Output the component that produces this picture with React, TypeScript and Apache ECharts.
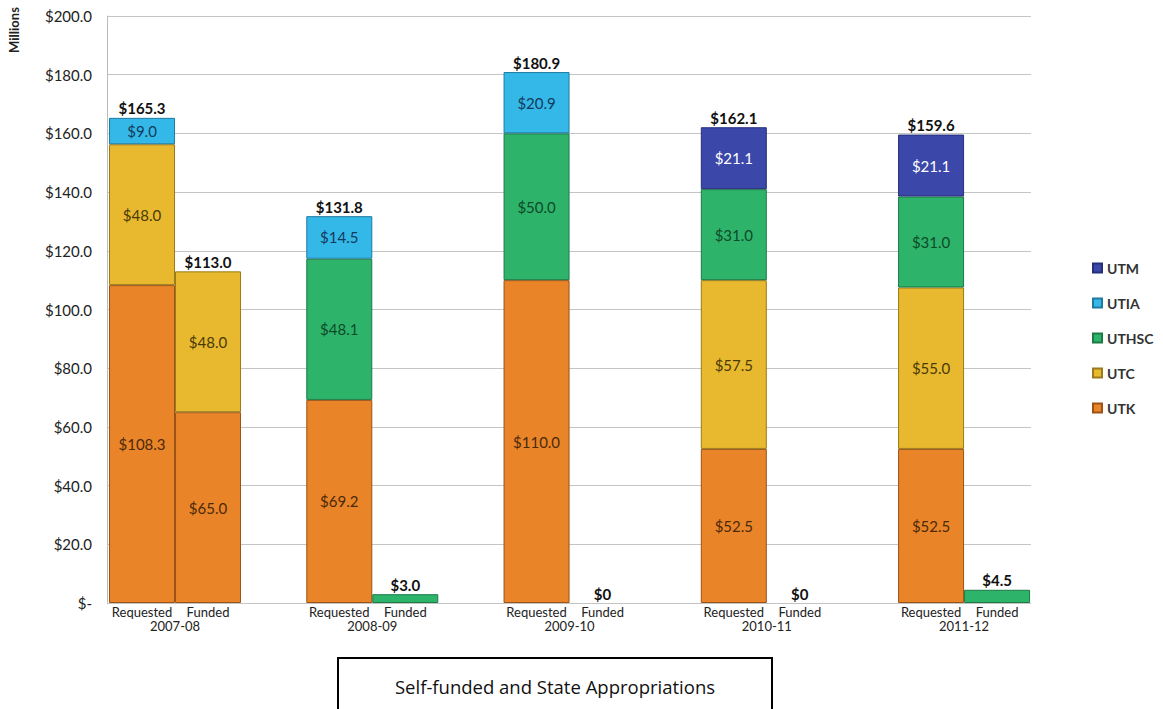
import React, { useEffect, useRef } from "react";
import * as echarts from "echarts";

const years = ["2007-08", "2008-09", "2009-10", "2010-11", "2011-12"];
const institutions = ["UTK", "UTC", "UTHSC", "UTIA", "UTM"];
const legendOrder = ["UTM", "UTIA", "UTHSC", "UTC", "UTK"];
const yTicks = [0, 20, 40, 60, 80, 100, 120, 140, 160, 180, 200];

// Requested amounts (millions)
const reqUTK = [108.3, 69.2, 110.0, 52.5, 52.5];
const reqUTC = [48.0, null, null, 57.5, 55.0];
const reqUTHSC = [null, 48.1, 50.0, 31.0, 31.0];
const reqUTIA = [9.0, 14.5, 20.9, null, null];
const reqUTM = [null, null, null, 21.1, 21.1];

// Funded amounts (millions)
const fundUTK = [65.0, null, null, null, null];
const fundUTC = [48.0, null, null, null, null];
const fundUTHSC = [null, 3.0, null, null, 4.5];
const fundUTIA = [null, null, null, null, null];
const fundUTM = [null, null, null, null, null];

const colors: Record<string, string> = {
  UTK: "#EA8428",
  UTC: "#E8B92F",
  UTHSC: "#2DB46A",
  UTIA: "#33B8E8",
  UTM: "#3B47A9",
};
const borders: Record<string, string> = {
  UTK: "#9a5316",
  UTC: "#9a7a1a",
  UTHSC: "#1d7a45",
  UTIA: "#1f7aa0",
  UTM: "#25307a",
};
const labelColors: Record<string, string> = {
  UTK: "#4a2a0a",
  UTC: "#4a3a08",
  UTHSC: "#0d4a28",
  UTIA: "#153a5a",
  UTM: "#ffffff",
};

const reqData: Record<string, (number | null)[]> = {
  UTK: reqUTK,
  UTC: reqUTC,
  UTHSC: reqUTHSC,
  UTIA: reqUTIA,
  UTM: reqUTM,
};
const fundData: Record<string, (number | null)[]> = {
  UTK: fundUTK,
  UTC: fundUTC,
  UTHSC: fundUTHSC,
  UTIA: fundUTIA,
  UTM: fundUTM,
};

const sumAt = (d: Record<string, (number | null)[]>, i: number) =>
  institutions.reduce((s, k) => s + (d[k][i] || 0), 0);

const fmt = (v: number) => "$" + v.toFixed(1);

export default function App() {
  const ref = useRef<HTMLDivElement>(null);
  useEffect(() => {
    if (!ref.current) return;
    const chart = echarts.init(ref.current, null, { renderer: "svg" });
    const font = "Lato, 'Open Sans', sans-serif";

    const makeSeries = (stack: string, d: Record<string, (number | null)[]>) =>
      institutions.map((k) => ({
        type: "bar",
        name: k,
        stack,
        xAxisIndex: 1,
        yAxisIndex: 1,
        barWidth: 66,
        barGap: "0%",
        data: d[k],
        itemStyle: {
          color: colors[k],
          borderColor: borders[k],
          borderWidth: 1,
        },
        label: {
          show: true,
          position: "inside",
          fontFamily: font,
          fontSize: 15,
          color: labelColors[k],
          formatter: (p: any) =>
            p.value == null || p.value < 5 ? "" : fmt(p.value),
        },
      }));

    const totalSeries = (stack: string, d: Record<string, (number | null)[]>) => ({
      type: "bar",
      name: "total-" + stack,
      stack,
      xAxisIndex: 1,
      yAxisIndex: 1,
      barWidth: 66,
      barGap: "0%",
      data: years.map(() => 0),
      itemStyle: { color: "transparent", borderWidth: 0 },
      label: {
        show: true,
        position: "top",
        distance: 2,
        fontFamily: font,
        fontWeight: "bold",
        fontSize: 15,
        color: "#111",
        formatter: (p: any) => {
          const t = sumAt(d, p.dataIndex);
          return t === 0 ? "$0" : fmt(t);
        },
      },
    });

    chart.setOption({
      animation: false,
      backgroundColor: "#ffffff",
      grid: [
        { left: 107, right: 132, top: 16, bottom: 106 },
        { left: 76.4, right: 100.3, top: 16, bottom: 106 },
      ],
      legend: {
        data: legendOrder,
        orient: "vertical",
        left: 1087,
        top: 256,
        itemWidth: 9,
        itemHeight: 9,
        itemGap: 21,
        icon: "rect",
        textStyle: { fontFamily: font, fontSize: 14, color: "#333", fontWeight: "bold" },
      },
      xAxis: [
        {
          type: "category",
          gridIndex: 0,
          data: years,
          show: false,
        },
        {
          type: "category",
          gridIndex: 1,
          data: years,
          axisLine: { show: false },
          axisTick: { show: false },
          axisLabel: {
            margin: 2,
            interval: 0,
            fontFamily: font,
            fontSize: 13,
            color: "#222",
            lineHeight: 14,
            formatter: (v: string) => "{a|Requested}{a|Funded}\n{b|" + v + "}",
            rich: {
              a: { width: 66, align: "center", fontFamily: font, fontSize: 13, color: "#222" },
              b: { fontFamily: font, fontSize: 13, color: "#222" },
            },
          },
        },
      ],
      yAxis: [
        {
          type: "value",
          gridIndex: 0,
          min: 0,
          max: 200,
          interval: 20,
          axisLine: { show: true, lineStyle: { color: "#bbb" } },
          axisTick: { show: false },
          splitLine: { lineStyle: { color: "#c4c4c4", width: 1 } },
          axisLabel: {
            margin: 15,
            fontFamily: font,
            fontSize: 15,
            color: "#222",
            formatter: (v: number) =>
              yTicks.indexOf(v) >= 0 ? (v === 0 ? "$-" : fmt(v)) : "",
          },
        },
        {
          type: "value",
          gridIndex: 1,
          min: 0,
          max: 200,
          interval: 20,
          show: false,
          splitLine: { show: false },
        },
      ],
      series: [
        ...makeSeries("req", reqData),
        ...makeSeries("fund", fundData),
        totalSeries("req", reqData),
        totalSeries("fund", fundData),
      ],
      graphic: [
        {
          type: "text",
          x: 14,
          y: 30,
          rotation: Math.PI / 2,
          style: {
            text: "Millions",
            fontFamily: font,
            fontWeight: "bold",
            fontSize: 13,
            fill: "#222",
            textAlign: "center",
            textVerticalAlign: "middle",
          },
        },
        {
          type: "rect",
          shape: { x: 338, y: 658, width: 434, height: 60 },
          style: { fill: "#fff", stroke: "#000", lineWidth: 2 },
        },
        {
          type: "text",
          x: 555,
          y: 686,
          style: {
            text: "Self-funded and State Appropriations",
            fontFamily: "'Open Sans', sans-serif",
            fontSize: 18.5,
            fill: "#111",
            textAlign: "center",
            textVerticalAlign: "middle",
          },
        },
      ],
    });
    return () => chart.dispose();
  }, []);
  return (
    <div
      ref={ref}
      style={{ position: "fixed", left: 0, top: 0, width: 1163, height: 709 }}
    />
  );
}
